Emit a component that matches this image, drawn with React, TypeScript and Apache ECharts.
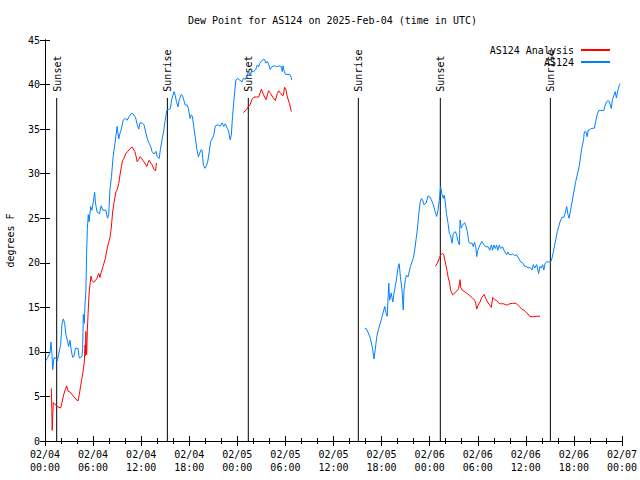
import React, { useEffect, useRef } from "react";
import * as echarts from "echarts";

// time in hours since 2025-02-04 00:00 UTC
const titleText = "Dew Point for AS124 on 2025-Feb-04 (time in UTC)";
const yAxisName = "degrees F";
const stationName = "AS124";
const analysisName = "AS124 Analysis";

const xMin = 0;
const xMax = 72;
const xInterval = 6;
const yMin = 0;
const yMax = 45;
const yInterval = 5;

const sunTimes = [1.46, 15.27, 25.37, 39.1, 49.33, 63.06];
const sunLabels = ["Sunset", "Sunrise", "Sunset", "Sunrise", "Sunset", "Sunrise"];

const stationSeg1: number[][] = [
  [0.1, 9.0], [0.35, 9.4], [0.62, 9.9], [0.75, 11.1], [0.87, 9.7], [0.96, 8.0], [1.12, 9.35], [1.37, 9.3],
  [1.54, 9.0], [1.7, 9.7], [1.95, 10.8], [2.12, 13.1], [2.29, 13.7], [2.45, 13.2], [2.62, 11.9], [2.79, 11.3],
  [2.95, 10.6], [3.12, 11.3], [3.29, 10.1], [3.45, 9.4], [3.62, 9.5], [3.79, 10.4], [4.12, 10.4], [4.28, 9.3],
  [4.62, 9.5], [4.7, 10.4], [4.78, 14.2], [4.91, 13.2], [5.0, 15.5], [5.1, 16.7], [5.2, 21.3], [5.28, 23.7],
  [5.4, 25.4], [5.5, 24.6], [5.7, 26.3], [5.85, 25.9], [6.0, 26.7], [6.2, 27.9], [6.3, 26.7], [6.5, 25.7],
  [6.8, 25.5], [7.0, 26.4], [7.2, 25.9], [7.6, 25.9], [7.8, 25.0], [7.95, 25.4], [8.1, 28.2], [8.3, 29.7],
  [8.5, 31.9], [8.7, 33.2], [8.85, 34.2], [9.0, 35.3], [9.2, 33.9], [9.35, 34.5], [9.5, 34.9], [9.75, 36.0],
  [10.0, 36.2], [10.25, 36.0], [10.5, 36.4], [10.8, 36.8], [11.0, 36.7], [11.3, 36.3], [11.5, 35.5], [11.7, 35.0],
  [11.85, 35.7], [12.1, 35.7], [12.35, 35.5], [12.5, 34.9], [12.8, 33.8], [13.0, 33.4], [13.2, 33.0], [13.35, 32.5],
  [13.6, 32.2], [13.85, 32.5], [14.0, 31.9], [14.25, 31.7], [14.4, 32.7], [14.6, 33.8], [14.8, 34.7], [15.0, 36.0],
  [15.2, 37.1], [15.4, 37.2], [15.65, 37.3], [15.8, 38.3], [16.1, 39.2], [16.25, 38.8], [16.4, 38.1], [16.6, 37.5],
  [16.75, 38.3], [17.0, 38.9], [17.15, 38.8], [17.3, 38.3], [17.5, 37.7], [17.75, 37.7], [17.9, 37.3], [18.1, 36.2],
  [18.25, 36.6], [18.4, 36.4], [18.55, 35.3], [18.8, 33.8], [18.95, 32.7], [19.15, 31.9], [19.3, 32.3], [19.5, 32.7],
  [19.6, 32.6], [19.76, 31.0], [19.96, 30.6], [20.1, 30.8], [20.3, 31.3], [20.5, 32.5], [20.67, 33.6], [20.9, 34.0],
  [21.05, 34.3], [21.25, 35.35], [21.6, 35.5], [21.85, 35.3], [22.1, 35.7], [22.3, 35.3], [22.5, 35.6], [22.75, 35.1],
  [22.9, 34.8], [23.1, 33.8], [23.25, 34.3], [23.4, 36.4], [23.6, 38.5], [23.8, 40.4], [24.0, 40.7], [24.3, 40.5],
  [24.6, 40.3], [24.75, 40.7], [25.0, 40.6], [25.17, 40.9], [25.4, 41.45], [25.6, 41.0], [25.8, 41.6], [26.0, 41.4],
  [26.3, 41.7], [26.5, 42.2], [26.65, 42.0], [26.8, 42.4], [27.0, 42.6], [27.2, 42.8], [27.4, 42.8], [27.55, 42.4],
  [27.74, 42.6], [27.9, 42.3], [28.1, 41.7], [28.3, 42.0], [28.66, 42.1], [28.9, 42.0], [29.2, 42.1], [29.5, 42.0],
  [29.6, 41.45], [29.7, 42.1], [29.85, 41.5], [30.0, 41.15], [30.2, 41.15], [30.57, 41.1], [30.73, 40.8], [30.8, 40.5],
];

const stationSeg2: number[][] = [
  [39.9, 12.65], [40.1, 12.6], [40.4, 12.0], [40.6, 11.5], [40.85, 10.5], [41.05, 9.2], [41.2, 10.2], [41.4, 11.7],
  [41.6, 12.5], [41.9, 13.4], [42.1, 14.1], [42.4, 15.1], [42.55, 14.4], [42.7, 14.0], [42.9, 17.7], [43.0, 15.8],
  [43.2, 16.6], [43.4, 15.6], [43.55, 16.6], [43.7, 17.3], [43.9, 18.4], [44.0, 19.2], [44.2, 19.9], [44.35, 18.4],
  [44.55, 16.95], [44.7, 14.7], [44.8, 16.9], [44.96, 18.1], [45.1, 18.6], [45.3, 18.4], [45.5, 19.2], [45.6, 19.6],
  [45.8, 20.1], [45.95, 20.5], [46.1, 21.2], [46.3, 22.6], [46.46, 23.7], [46.63, 25.4], [46.8, 26.7], [46.96, 27.2],
  [47.1, 27.1], [47.3, 26.5], [47.55, 26.7], [47.8, 27.5], [48.0, 27.4], [48.2, 27.1], [48.46, 26.5], [48.7, 25.7],
  [48.87, 25.2], [49.04, 25.9], [49.2, 27.0], [49.37, 28.55], [49.5, 27.8], [49.7, 27.2], [49.8, 27.6], [49.9, 27.2],
  [50.1, 25.5], [50.3, 24.4], [50.45, 23.3], [50.6, 23.1], [50.8, 22.2], [50.95, 23.3], [51.2, 23.5], [51.37, 23.1],
  [51.55, 22.4], [51.7, 22.0], [51.8, 24.8], [51.95, 23.9], [52.1, 24.2], [52.36, 24.5], [52.5, 24.2], [52.7, 23.5],
  [52.87, 22.4], [53.0, 22.2], [53.3, 22.2], [53.45, 21.8], [53.6, 22.3], [53.75, 21.8], [53.87, 20.7], [54.0, 21.4],
  [54.28, 22.0], [54.5, 22.4], [54.8, 22.0], [55.0, 21.8], [55.28, 21.8], [55.5, 21.4], [55.7, 22.0], [55.85, 21.4],
  [56.0, 22.0], [56.2, 21.6], [56.35, 22.0], [56.5, 21.4], [56.7, 22.0], [56.85, 21.6], [57.1, 21.8], [57.27, 21.4],
  [57.4, 21.2], [57.6, 20.9], [57.75, 21.2], [57.9, 20.95], [58.2, 20.9], [58.35, 21.0], [58.6, 20.8], [58.85, 20.9],
  [59.1, 20.5], [59.35, 20.1], [59.6, 20.0], [59.85, 19.6], [60.1, 19.6], [60.27, 19.4], [60.5, 19.5], [60.77, 19.2],
  [60.94, 19.8], [61.1, 19.4], [61.35, 19.8], [61.6, 18.8], [61.77, 19.6], [61.93, 19.4], [62.1, 19.8], [62.25, 19.2],
  [62.4, 19.95], [62.6, 20.1], [62.85, 20.1], [63.1, 20.1], [63.26, 20.5], [63.43, 21.2], [63.6, 22.0], [63.77, 22.75],
  [63.93, 23.5], [64.1, 24.05], [64.27, 24.6], [64.5, 25.1], [64.75, 25.1], [64.9, 25.55], [65.1, 26.3], [65.26, 25.4],
  [65.4, 25.0], [65.6, 26.0], [65.9, 27.5], [66.2, 29.0], [66.5, 30.2], [66.7, 31.0], [66.95, 32.7], [67.2, 33.8],
  [67.3, 34.7], [67.5, 34.7], [67.65, 34.15], [67.8, 34.9], [67.95, 34.9], [68.1, 35.05], [68.4, 35.1], [68.55, 35.1],
  [68.75, 36.0], [68.9, 36.6], [69.1, 37.1], [69.25, 37.1], [69.5, 37.1], [69.75, 37.1], [69.9, 37.7], [70.1, 38.1],
  [70.25, 38.2], [70.4, 38.1], [70.55, 37.7], [70.67, 37.3], [70.8, 38.3], [71.0, 38.8], [71.15, 39.2], [71.3, 38.5],
  [71.5, 39.4], [71.66, 39.9], [71.75, 40.1],
];

const analysisSeg1: number[][] = [
  [0.79, 5.9], [0.85, 3.55], [0.9, 1.2], [0.97, 3.0], [1.04, 4.3], [1.2, 4.2], [1.46, 3.9], [1.95, 3.7],
  [2.12, 4.3], [2.29, 5.05], [2.54, 5.8], [2.7, 6.2], [2.87, 5.6], [3.12, 5.5], [3.54, 5.05], [3.95, 4.6],
  [4.12, 4.5], [4.28, 5.2], [4.45, 6.2], [4.62, 7.1], [4.78, 8.0], [4.9, 8.8], [5.0, 10.8], [5.05, 9.6],
  [5.1, 12.3], [5.15, 10.5], [5.2, 9.7], [5.28, 12.3], [5.37, 14.2], [5.45, 15.7], [5.53, 16.9], [5.65, 17.8],
  [5.74, 18.5], [5.87, 18.0], [6.1, 17.8], [6.45, 18.2], [6.7, 18.8], [6.86, 18.35], [7.0, 18.9], [7.28, 19.7],
  [7.53, 20.5], [7.78, 21.7], [7.95, 22.3], [8.1, 22.8], [8.28, 24.0], [8.44, 25.7], [8.6, 26.7], [8.86, 28.0],
  [9.0, 28.2], [9.2, 28.9], [9.36, 29.85], [9.53, 30.8], [9.69, 31.5], [9.85, 31.7], [10.1, 32.3], [10.36, 32.5],
  [10.6, 32.8], [10.86, 33.0], [11.0, 32.8], [11.2, 32.5], [11.35, 32.0], [11.5, 31.35], [11.7, 31.6], [11.86, 31.9],
  [12.0, 31.8], [12.2, 31.5], [12.45, 31.2], [12.7, 30.8], [12.85, 31.2], [13.0, 31.5], [13.2, 31.2], [13.35, 31.0],
  [13.6, 30.5], [13.8, 30.3], [13.85, 30.8], [13.9, 31.2],
];

const analysisSeg2: number[][] = [
  [24.75, 36.85], [25.17, 37.2], [25.35, 37.5], [25.58, 37.7], [25.83, 38.35], [26.08, 38.6], [26.4, 38.6],
  [26.66, 38.6], [27.0, 39.5], [27.25, 38.9], [27.57, 38.3], [27.9, 39.3], [28.15, 39.0], [28.4, 38.6],
  [28.74, 38.2], [28.98, 39.0], [29.16, 39.3], [29.4, 39.0], [29.57, 38.8], [29.74, 38.8], [29.9, 39.7],
  [30.07, 39.4], [30.24, 38.6], [30.5, 37.9], [30.74, 36.96],
];

const analysisSeg3: number[][] = [
  [48.7, 19.6], [48.96, 19.95], [49.2, 20.5], [49.37, 20.9], [49.62, 21.05], [49.75, 20.9], [49.92, 20.2],
  [50.1, 19.4], [50.3, 18.4], [50.5, 17.7], [50.6, 16.95], [50.87, 16.4], [51.1, 16.6], [51.37, 16.8],
  [51.6, 17.1], [51.8, 18.1], [51.87, 17.2], [52.05, 16.95], [52.3, 16.8], [52.6, 16.6], [52.9, 16.4],
  [53.28, 16.1], [53.6, 15.8], [53.75, 15.45], [53.87, 14.8], [54.05, 15.25], [54.28, 15.6], [54.5, 16.1],
  [54.78, 16.45], [55.0, 16.0], [55.28, 15.5], [55.5, 15.25], [55.7, 15.0], [55.86, 16.1], [56.1, 15.9],
  [56.36, 15.75], [56.6, 15.5], [56.86, 15.4], [57.2, 15.4], [57.6, 15.25], [58.0, 15.4], [58.35, 15.45],
  [58.78, 15.45], [59.0, 15.25], [59.27, 15.0], [59.5, 14.8], [59.75, 14.7], [59.96, 14.5], [60.27, 14.25],
  [60.52, 13.95], [60.94, 13.95], [61.35, 14.0], [61.77, 14.0],
];

function joinSegments(segs: number[][][]): (number | null)[][] {
  const out: (number | null)[][] = [];
  segs.forEach((s, i) => {
    if (i > 0) out.push([(segs[i - 1][segs[i - 1].length - 1][0] + s[0][0]) / 2, null]);
    s.forEach((p) => out.push(p));
  });
  return out;
}

const FONT = "DejaVu Sans Mono";

function fmtX(h: number): string {
  const day = 4 + Math.floor(h / 24);
  const hh = Math.round(h % 24);
  return "02/" + String(day).padStart(2, "0") + "\n" + String(hh).padStart(2, "0") + ":00";
}

export default function App() {
  const ref = useRef<HTMLDivElement>(null);
  useEffect(() => {
    if (!ref.current) return;
    const chart = echarts.init(ref.current, null, { renderer: "svg" });
    const axisCommonX = {
      type: "value" as const,
      min: xMin,
      max: xMax,
      interval: xInterval,
      axisLine: { show: true, lineStyle: { color: "#000", width: 1 } },
      axisTick: { show: true, inside: true, length: 5, lineStyle: { color: "#000" } },
      minorTick: { show: true, splitNumber: 3, length: 3, lineStyle: { color: "#000" } },
      splitLine: { show: false },
      minorSplitLine: { show: false },
    };
    const axisCommonY = {
      type: "value" as const,
      min: yMin,
      max: yMax,
      interval: yInterval,
      axisLine: { show: true, lineStyle: { color: "#000", width: 1 } },
      axisTick: { show: true, inside: true, length: 5, lineStyle: { color: "#000" } },
      splitLine: { show: false },
    };
    chart.setOption({
      animation: false,
      backgroundColor: "#fff",
      textStyle: { fontFamily: FONT, fontSize: 10, color: "#000" },
      title: {
        text: titleText,
        left: 188,
        top: 15,
        padding: 0,
        textStyle: { fontFamily: FONT, fontSize: 10, fontWeight: "normal", color: "#000" },
      },
      legend: {
        orient: "vertical",
        right: 30,
        top: 45,
        align: "right",
        padding: 0,
        itemGap: 2,
        itemWidth: 29,
        itemHeight: 2,
        icon: "rect",
        data: [analysisName, stationName],
        textStyle: { fontFamily: FONT, fontSize: 10, color: "#000", padding: [0, 2, 0, 0] },
      },
      grid: { left: 45, right: 18, top: 40, bottom: 39, containLabel: false, outerBoundsMode: "none" },
      xAxis: [
        {
          ...axisCommonX,
          position: "bottom",
          axisLabel: {
            show: true,
            margin: 7,
            color: "#000",
            fontFamily: FONT,
            fontSize: 10,
            lineHeight: 13,
            formatter: (v: number) => fmtX(v),
          },
        },
        { ...axisCommonX, position: "top", axisLabel: { show: false } },
      ],
      yAxis: [
        {
          ...axisCommonY,
          position: "left",
          name: yAxisName,
          nameLocation: "middle",
          nameGap: 30,
          nameRotate: 90,
          nameTextStyle: { fontFamily: FONT, fontSize: 10, color: "#000" },
          axisLabel: { show: true, margin: 5, color: "#000", fontFamily: FONT, fontSize: 10 },
        },
        { ...axisCommonY, position: "right", axisLabel: { show: false } },
      ],
      series: [
        {
          type: "custom",
          name: "sun",
          xAxisIndex: 0,
          yAxisIndex: 0,
          clip: false,
          silent: true,
          data: sunTimes.map((t, i) => [t, i]),
          encode: { x: 0 },
          renderItem: (params: any, api: any) => {
            const t = api.value(0);
            const idx = api.value(1);
            const top = api.coord([t, 38.5]);
            const bottom = api.coord([t, 0]);
            const labelAt = api.coord([t, 39.2]);
            return {
              type: "group",
              children: [
                {
                  type: "line",
                  shape: { x1: top[0], y1: top[1], x2: bottom[0], y2: bottom[1] },
                  style: { stroke: "#000", lineWidth: 1 },
                },
                {
                  type: "text",
                  x: labelAt[0] + 0.5,
                  y: labelAt[1],
                  rotation: Math.PI / 2,
                  style: {
                    text: sunLabels[idx],
                    fontFamily: FONT,
                    fontSize: 10,
                    fill: "#000",
                    textAlign: "left",
                    textVerticalAlign: "middle",
                  },
                },
              ],
            };
          },
        },
        {
          type: "line",
          name: analysisName,
          data: joinSegments([analysisSeg1, analysisSeg2, analysisSeg3]),
          showSymbol: false,
          symbol: "none",
          connectNulls: false,
          color: "#ff0000",
          lineStyle: { color: "#ff0000", width: 1 },
        },
        {
          type: "line",
          name: stationName,
          data: joinSegments([stationSeg1, stationSeg2]),
          showSymbol: false,
          symbol: "none",
          connectNulls: false,
          color: "#0080ff",
          lineStyle: { color: "#0080ff", width: 1 },
        },
      ],
    });
    return () => chart.dispose();
  }, []);
  return <div ref={ref} style={{ width: 640, height: 480, position: "absolute", left: 0, top: 0 }} />;
}
